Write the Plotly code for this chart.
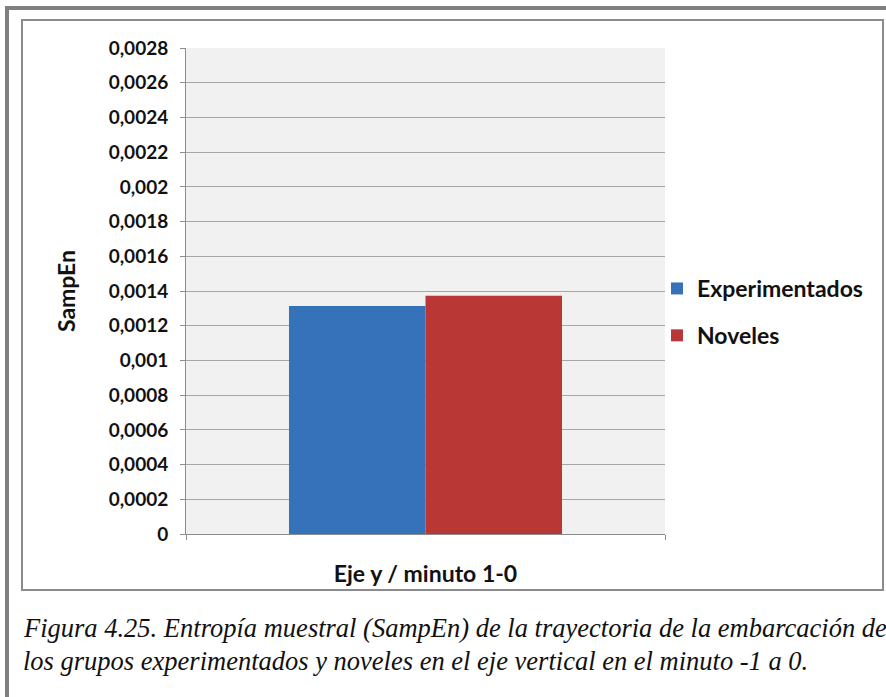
import plotly.graph_objects as go

# ---- data ----
categories = ["Eje y / minuto 1-0"]
series_names = ["Experimentados", "Noveles"]
experimentados = [0.001314]
noveles = [0.001372]
tick_vals = [0, 0.0002, 0.0004, 0.0006, 0.0008, 0.001, 0.0012, 0.0014,
             0.0016, 0.0018, 0.002, 0.0022, 0.0024, 0.0026, 0.0028]
tick_labels = ["0", "0,0002", "0,0004", "0,0006", "0,0008", "0,001", "0,0012",
               "0,0014", "0,0016", "0,0018", "0,002", "0,0022", "0,0024",
               "0,0026", "0,0028"]
caption_lines = [
    "Figura 4.25. Entropía muestral (SampEn) de la trayectoria de la embarcación de",
    "los grupos experimentados y noveles en el eje vertical en el minuto -1 a 0.",
]

W, H = 886, 697
L, R, T, B = 186, 665, 48, 534  # plot area in px


def px(x):
    return (x - L) / (R - L)


def py(y):
    return (B - y) / (B - T)


FONT = "Lato"
colors = ["#3572BA", "#B93734"]

fig = go.Figure()
for name, vals, c in zip(series_names, [experimentados, noveles], colors):
    fig.add_trace(go.Bar(x=categories, y=vals, name=name, marker_color=c,
                         marker_line_width=0, legendgroup=name))

shapes = [
    # outer frame (left + top)
    dict(type="line", xref="paper", yref="paper", x0=px(7), x1=px(7), y0=py(700), y1=py(8),
         line=dict(color="#808080", width=4)),
    dict(type="line", xref="paper", yref="paper", x0=px(5), x1=px(890), y0=py(8), y1=py(8),
         line=dict(color="#808080", width=4)),
    # inner chart border
    dict(type="rect", xref="paper", yref="paper", x0=px(22), x1=px(883), y0=py(590), y1=py(20),
         line=dict(color="#8c8c8c", width=2), layer="below"),
]

annotations = []
caption_y = [628, 661]
for line, yy in zip(caption_lines, caption_y):
    annotations.append(dict(
        text=line, xref="paper", yref="paper", x=px(21), y=py(yy),
        xanchor="left", yanchor="middle", showarrow=False,
        font=dict(family="Liberation Serif", size=26.5, color="#111111", style="italic"),
    ))

fig.update_layout(
    width=W, height=H,
    margin=dict(l=L, r=W - R, t=T, b=H - B),
    paper_bgcolor="white", plot_bgcolor="#F1F1F1",
    barmode="group", bargap=0.43, bargroupgap=0,
    showlegend=True,
    legend=dict(x=px(657), y=py(312), xanchor="left", yanchor="middle",
                font=dict(family=FONT, size=23, color="#111111", weight="bold"),
                tracegroupgap=14, bgcolor="rgba(0,0,0,0)"),
    shapes=shapes, annotations=annotations,
    font=dict(family=FONT, color="#111111"),
)

fig.update_yaxes(
    range=[0, 0.0028], tickvals=tick_vals, ticktext=tick_labels,
    showgrid=True, gridcolor="#A6A6A6", gridwidth=1,
    showline=True, linecolor="#8c8c8c", linewidth=1,
    ticks="outside", ticklen=5, tickcolor="#8c8c8c",
    tickfont=dict(family=FONT, size=19, color="#111111", weight="bold"),
    ticklabelstandoff=8, zeroline=False,
    title=dict(text="SampEn", font=dict(family=FONT, size=23, weight="bold"), standoff=26),
)
fig.update_xaxes(
    showline=True, linecolor="#8c8c8c", linewidth=1,
    ticks="outside", ticklen=5, tickcolor="#8c8c8c", tickson="boundaries",
    showticklabels=False,
    title=dict(text="Eje y / minuto 1-0", font=dict(family=FONT, size=23, weight="bold"), standoff=31),
)

fig.write_html("out.html", config={"displayModeBar": False},
               post_script="document.body.style.margin='0';")
